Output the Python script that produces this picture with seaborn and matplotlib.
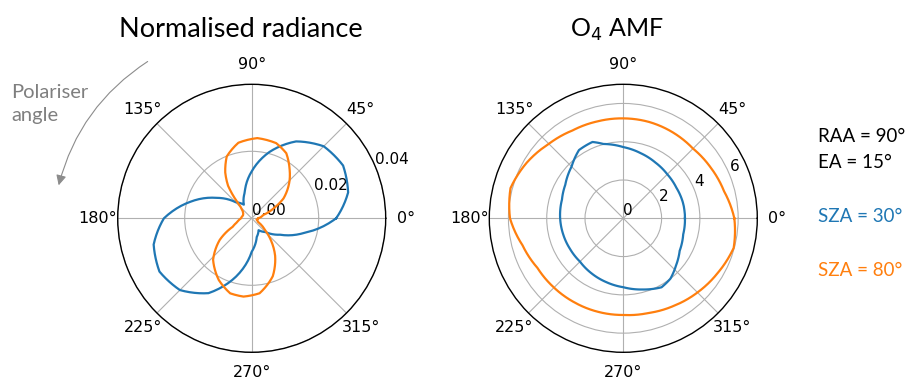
import numpy as np
import pandas as pd
import matplotlib
matplotlib.use("Agg")
import matplotlib.pyplot as plt
import seaborn as sns
from matplotlib.patches import FancyArrowPatch

# ---------------- data ----------------
# Normalised radiance, SZA = 30 deg
rad30_theta = [0, 15, 30, 45, 60, 75, 90, 105, 120, 135, 150, 165,
               180, 195, 210, 225, 240, 255, 270, 285, 300, 315, 330, 345]
rad30_value = [0.0252, 0.0298, 0.0315, 0.0304, 0.0265, 0.0205, 0.0140, 0.0080,
               0.0047, 0.0068, 0.0122, 0.0190, 0.0262, 0.0303, 0.0318, 0.0303,
               0.0258, 0.0180, 0.0100, 0.0058, 0.0041, 0.0058, 0.0098, 0.0165]

# Normalised radiance, SZA = 80 deg
rad80_theta = [0, 16, 25, 32, 45, 52, 62, 72, 86, 100, 112, 120, 126, 130, 133,
               140, 150, 160, 180, 195, 204, 214, 227, 242, 254, 264, 276, 290,
               302, 311, 318, 330, 345]
rad80_value = [0.0020, 0.0036, 0.0075, 0.0112, 0.0160, 0.0184, 0.0220, 0.0236,
               0.0240, 0.0229, 0.0199, 0.0158, 0.0120, 0.0080, 0.0050,
               0.0035, 0.0029, 0.0027, 0.0032, 0.0045, 0.0062, 0.0115, 0.0169,
               0.0209, 0.0233, 0.0235, 0.0225, 0.0184, 0.0132, 0.0088, 0.0055,
               0.0022, 0.0015]

# O4 AMF, SZA = 30 deg
amf30_theta = [0, 15, 30, 45, 60, 75, 90, 105, 112, 123, 135, 150, 163,
               180, 195, 210, 225, 240, 255, 270, 285, 299, 308, 318, 330, 345]
amf30_value = [3.22, 3.22, 3.20, 3.25, 3.36, 3.52, 3.72, 4.02, 4.30, 4.25, 3.82,
               3.50, 3.35, 3.30, 3.25, 3.21, 3.20, 3.32, 3.45, 3.60, 3.85, 4.12,
               4.00, 3.70, 3.40, 3.24]

# O4 AMF, SZA = 80 deg
amf80_theta = [0, 15, 30, 45, 60, 75, 90, 105, 120, 135, 150, 165,
               180, 195, 210, 225, 240, 255, 270, 285, 300, 315, 330, 345]
amf80_value = [5.80, 5.45, 5.28, 5.15, 5.18, 5.21, 5.22, 5.24, 5.30, 5.50, 5.82, 6.10,
               5.92, 5.45, 5.18, 5.12, 5.08, 5.06, 5.05, 5.12, 5.28, 5.48, 5.70, 5.97]

series_labels = ["SZA = 30°", "SZA = 80°"]
theta_ticks_deg = [0, 45, 90, 135, 180, 225, 270, 315]
rad_rticks = [0.00, 0.02, 0.04]
rad_rticklabels = ["0.00", "0.02", "0.04"]
amf_rticks = [0, 2, 4, 6]
amf_rticklabels = ["0", "2", "4", "6"]
titles = ["Normalised radiance", "O$_4$ AMF"]
info_lines = ["RAA = 90°", "EA = 15°"]

colors = ["#1f77b4", "#ff7f0e"]

# ---------------- figure ----------------
W, H = 910, 385
fig = plt.figure(figsize=(W / 100, H / 100), dpi=100)
TXT_FONT = ["Lato", "DejaVu Sans"]


def polar_axes(cx, cy, r):
    return fig.add_axes([(cx - r) / W, 1 - (cy + r) / H, 2 * r / W, 2 * r / H],
                        projection="polar")


def make_df(series):
    rows = []
    for lab, (th, vals) in zip(series_labels, series):
        th = list(th) + [th[0] + 360]
        vv = list(vals) + [vals[0]]
        for t, v in zip(th, vv):
            rows.append({"theta": np.deg2rad(t), "r": v, "series": lab})
    return pd.DataFrame(rows)


def draw(ax, series, rmax, rticks, rticklabels):
    df = make_df(series)
    sns.lineplot(data=df, x="theta", y="r", hue="series", palette=colors,
                 sort=False, estimator=None, legend=False, linewidth=1.6, ax=ax)
    for ln in ax.lines:
        ln.get_path()._interpolation_steps = 12
    ax.set_xlabel("")
    ax.set_ylabel("")
    ax.set_ylim(0, rmax)
    ax.set_yticks(rticks)
    ax.set_yticklabels(rticklabels)
    ax.set_xticks(np.deg2rad(theta_ticks_deg))
    ax.set_xticklabels([f"{d}°" for d in theta_ticks_deg])
    ax.tick_params(axis="x", labelsize=11.5, pad=4)
    ax.tick_params(axis="y", labelsize=11)
    ax.grid(True, color="#b0b0b0", linewidth=0.8)
    ax.spines["polar"].set_linewidth(1.0)


ax1 = polar_axes(251.7, 218.3, 134)
draw(ax1, [(rad30_theta, rad30_value), (rad80_theta, rad80_value)],
     0.04, rad_rticks, rad_rticklabels)
ax2 = polar_axes(623.3, 218.3, 134)
draw(ax2, [(amf30_theta, amf30_value), (amf80_theta, amf80_value)],
     7, amf_rticks, amf_rticklabels)


def ftext(x, y, s, **kw):
    fig.text(x / W, 1 - y / H, s, family=TXT_FONT, va="baseline", **kw)


ftext(241, 37, titles[0], fontsize=19.5, ha="center")
ftext(617, 37, titles[1], fontsize=18, ha="center")

ftext(11, 98, "Polariser", fontsize=14.5, color="#7f7f7f")
ftext(11, 121, "angle", fontsize=14.5, color="#7f7f7f")

ftext(818, 141.5, info_lines[0], fontsize=13.5, color="black")
ftext(818, 168, info_lines[1], fontsize=13.5, color="black")
ftext(818, 221.5, series_labels[0], fontsize=13.5, color=colors[0])
ftext(818, 276, series_labels[1], fontsize=13.5, color=colors[1])

arrow = FancyArrowPatch((150 / W, 1 - 60 / H), (58 / W, 1 - 188 / H),
                        transform=fig.transFigure,
                        connectionstyle="arc3,rad=0.2",
                        arrowstyle="-|>,head_length=0.6,head_width=0.3",
                        mutation_scale=10, color="#8c8c8c", lw=0.8)
fig.patches.append(arrow)

fig.savefig("out.png", dpi=100)
